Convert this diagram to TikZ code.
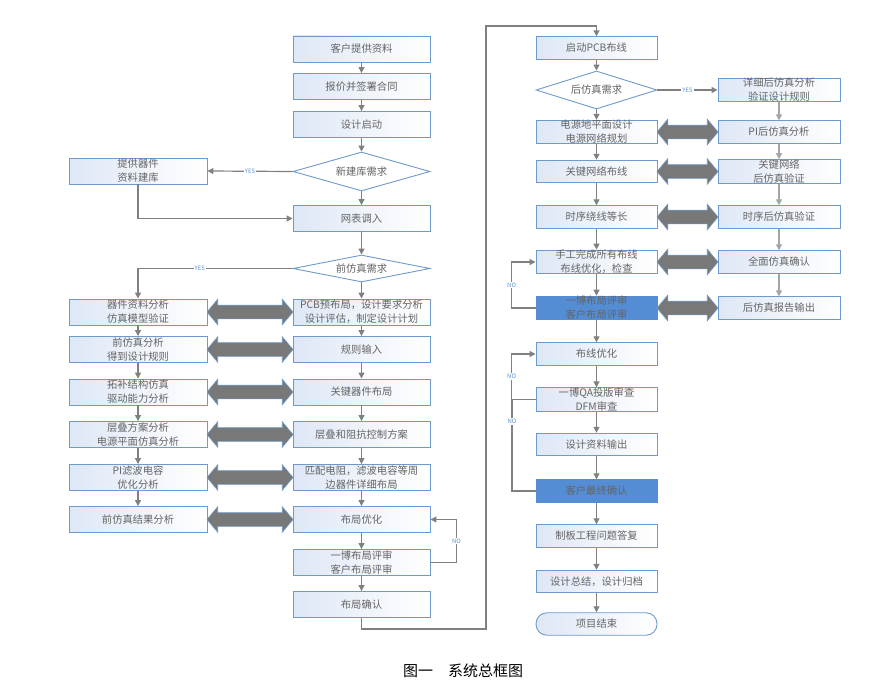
\documentclass[tikz,border=0pt]{standalone}
\usepackage{fontspec}
\setmainfont{Noto Sans CJK SC}
\usetikzlibrary{arrows.meta, positioning, shapes.geometric, shapes.arrows}
\usetikzlibrary{calc,shadings}
\definecolor{color_edge}{RGB}{110,155,205}
\definecolor{color_fill}{RGB}{222,231,246}
\definecolor{color_hot}{RGB}{84,141,212}
\definecolor{color_line}{RGB}{128,128,128}
\definecolor{color_soft}{RGB}{165,165,165}
\definecolor{color_text}{RGB}{100,100,100}
\definecolor{color_tag}{RGB}{95,145,210}
\definecolor{color_twin}{RGB}{120,120,120}

\begin{document}
\begin{tikzpicture}[x=1pt, y=-1pt,
box/.style={draw=color_edge, line width=0.9pt, text=color_text, align=center,
  inner sep=0pt, font=\fontsize{10.3}{14}\selectfont},
plain box/.style={box, left color=color_fill, right color=white},
hot box/.style={box, fill=color_hot, draw=color_hot},
wide/.style={minimum width=137pt, minimum height=26pt},
narrow/.style={minimum width=121pt, minimum height=22.5pt},
ask/.style={box, diamond, fill=white, minimum width=#1},
twin/.style={double arrow, draw=color_edge, line width=0.6pt, fill=color_twin,
  minimum width=25pt, double arrow head extend=6pt, double arrow tip angle=100,
  inner xsep=0pt, inner ysep=6.5pt},
link/.style={draw=color_line, line width=1.2pt},
arr/.style={link, -{Triangle[length=6pt, width=6pt]}},
arr soft/.style={arr, draw=color_soft},
tag/.style={font=\fontsize{6}{6}\selectfont, text=color_tag, fill=white, inner sep=1pt}]
\useasboundingbox (0,0) rectangle (880,693);
% KAISHI
\node[plain box, wide] (c1) at (361.5,49) {客户提供资料};
\node[plain box, wide] (c2) at (361.5,86.5) {报价并签署合同};
\node[plain box, wide] (c3) at (361.5,124.5) {设计启动};
\node[ask=137pt, minimum height=39pt, aspect=3.5] (dn) at (361.5,171.5) {新建库需求};
\node[plain box, wide, minimum width=138pt] (l0) at (138,171) {提供器件\\资料建库};
\node[plain box, wide] (c4) at (361.5,218.5) {网表调入};
\node[ask=137pt, minimum height=27pt, aspect=5] (dp) at (361.5,268.5) {前仿真需求};
% QIAN FANGZHEN
\node[plain box, wide, minimum width=138pt] (s1) at (138,312) {器件资料分析\\仿真模型验证};
\node[plain box, wide, minimum width=138pt] (s2) at (138,349.5) {前仿真分析\\得到设计规则};
\node[plain box, wide, minimum width=138pt] (s3) at (138,392) {拓补结构仿真\\驱动能力分析};
\node[plain box, wide, minimum width=138pt] (s4) at (138,434.5) {层叠方案分析\\电源平面仿真分析};
\node[plain box, wide, minimum width=138pt] (s5) at (138,477.5) {PI滤波电容\\优化分析};
\node[plain box, wide, minimum width=138pt] (s6) at (138,519.5) {前仿真结果分析};
% BUJU
\node[plain box, wide] (p1) at (361.5,312) {PCB预布局，设计要求分析\\设计评估，制定设计计划};
\node[plain box, wide] (p2) at (361.5,349.5) {规则输入};
\node[plain box, wide] (p3) at (361.5,392) {关键器件布局};
\node[plain box, wide] (p4) at (361.5,434.5) {层叠和阻抗控制方案};
\node[plain box, wide] (p5) at (361.5,477.5) {匹配电阻，滤波电容等周\\边器件详细布局};
\node[plain box, wide] (p6) at (361.5,519.5) {布局优化};
\node[plain box, wide] (p7) at (361.5,562.5) {一博布局评审\\客户布局评审};
\node[plain box, wide] (p8) at (361.5,604.5) {布局确认};
% BUXIAN
\node[plain box, narrow] (a1) at (596.5,48) {启动PCB布线};
\node[ask=121pt, minimum height=38pt, aspect=3.2] (da) at (596.5,90) {后仿真需求};
\node[plain box, narrow] (a2) at (596.5,132) {电源地平面设计\\电源网络规划};
\node[plain box, narrow] (a3) at (596.5,171.5) {关键网络布线};
\node[plain box, narrow] (a4) at (596.5,217) {时序绕线等长};
\node[plain box, narrow] (a5) at (596.5,262) {手工完成所有布线\\布线优化，检查};
\node[hot box, narrow] (a6) at (596.5,308) {一博布局评审\\客户布局评审};
\node[plain box, narrow] (a7) at (596.5,354) {布线优化};
\node[plain box, narrow] (a8) at (596.5,399.5) {一博QA投版审查\\DFM审查};
\node[plain box, narrow] (a9) at (596.5,444.5) {设计资料输出};
\node[hot box, narrow] (a10) at (596.5,491) {客户最终确认};
\node[plain box, narrow] (a11) at (596.5,536) {制板工程问题答复};
\node[plain box, narrow] (a12) at (596.5,581.5) {设计总结，设计归档};
\node[plain box, narrow, rounded corners=11pt] (a13) at (596.5,624) {项目结束};
% HOU FANGZHEN
\node[plain box, narrow, minimum width=122pt] (b1) at (779,90) {详细后仿真分析\\验证设计规则};
\node[plain box, narrow, minimum width=122pt] (b2) at (779,132) {PI后仿真分析};
\node[plain box, narrow, minimum width=122pt] (b3) at (779,171.5) {关键网络\\后仿真验证};
\node[plain box, narrow, minimum width=122pt] (b4) at (779,217) {时序后仿真验证};
\node[plain box, narrow, minimum width=122pt] (b5) at (779,262) {全面仿真确认};
\node[plain box, narrow, minimum width=122pt] (b6) at (779,308) {后仿真报告输出};
\node[font=\fontsize{15}{15}\selectfont] (title) at (463,671) {图一　系统总框图};
% LIANJIE
\foreach \u/\v in {c1/c2, c2/c3, c3/dn, dn/c4, c4/dp, dp/p1, p1/p2, p2/p3, p3/p4, p4/p5,
  p5/p6, p6/p7, p7/p8, s1/s2, s2/s3, s3/s4, s4/s5, s5/s6, a1/da, da/a2, a2/a3, a3/a4,
  a4/a5, a5/a6, a6/a7, a7/a8, a8/a9, a9/a10, a10/a11, a11/a12, a12/a13}
  \draw[arr] (\u.south) -- (\v.north);
\foreach \u/\v in {b1/b2, b2/b3, b3/b4, b4/b5, b5/b6}
  \draw[arr soft] (\u.south) -- (\v.north);
\foreach \i in {1,...,6}
  \node[twin, minimum height=86pt] (sp\i) at ($(s\i.east)!0.5!(p\i.west)$) {};
\foreach \i in {2,...,6}
  \node[twin, minimum height=61pt] (ab\i) at ($(a\i.east)!0.5!(b\i.west)$) {};
\draw[arr] (dn.west) -- node[tag] {YES} (l0.east);
\draw[arr] (l0.south) |- (c4.west);
\draw[arr] (dp.west) -| node[tag, pos=0.3] {YES} (s1.north);
\draw[arr] (da.east) -- node[tag] {YES} (b1.west);
\draw[arr] (p7.east) -- ++(26,0) |- node[tag, pos=0.25] {NO} (p6.east);
\draw[arr] (a6.west) -- ++(-24,0) |- node[tag, pos=0.25] {NO} (a5.west);
\draw[arr] (a8.west) -- ++(-24,0) |- node[tag, pos=0.25] {NO} (a7.west);
\coordinate (merge) at (512,399.5);
\draw[link] (a10.west) -| node[tag, pos=0.88] {NO} (merge);
\coordinate (back1) at (486,629);
\coordinate (back2) at (486,26);
\draw[arr] (p8.south) |- (back1) -- (back2) -| (a1.north);
\end{tikzpicture}
\end{document}
